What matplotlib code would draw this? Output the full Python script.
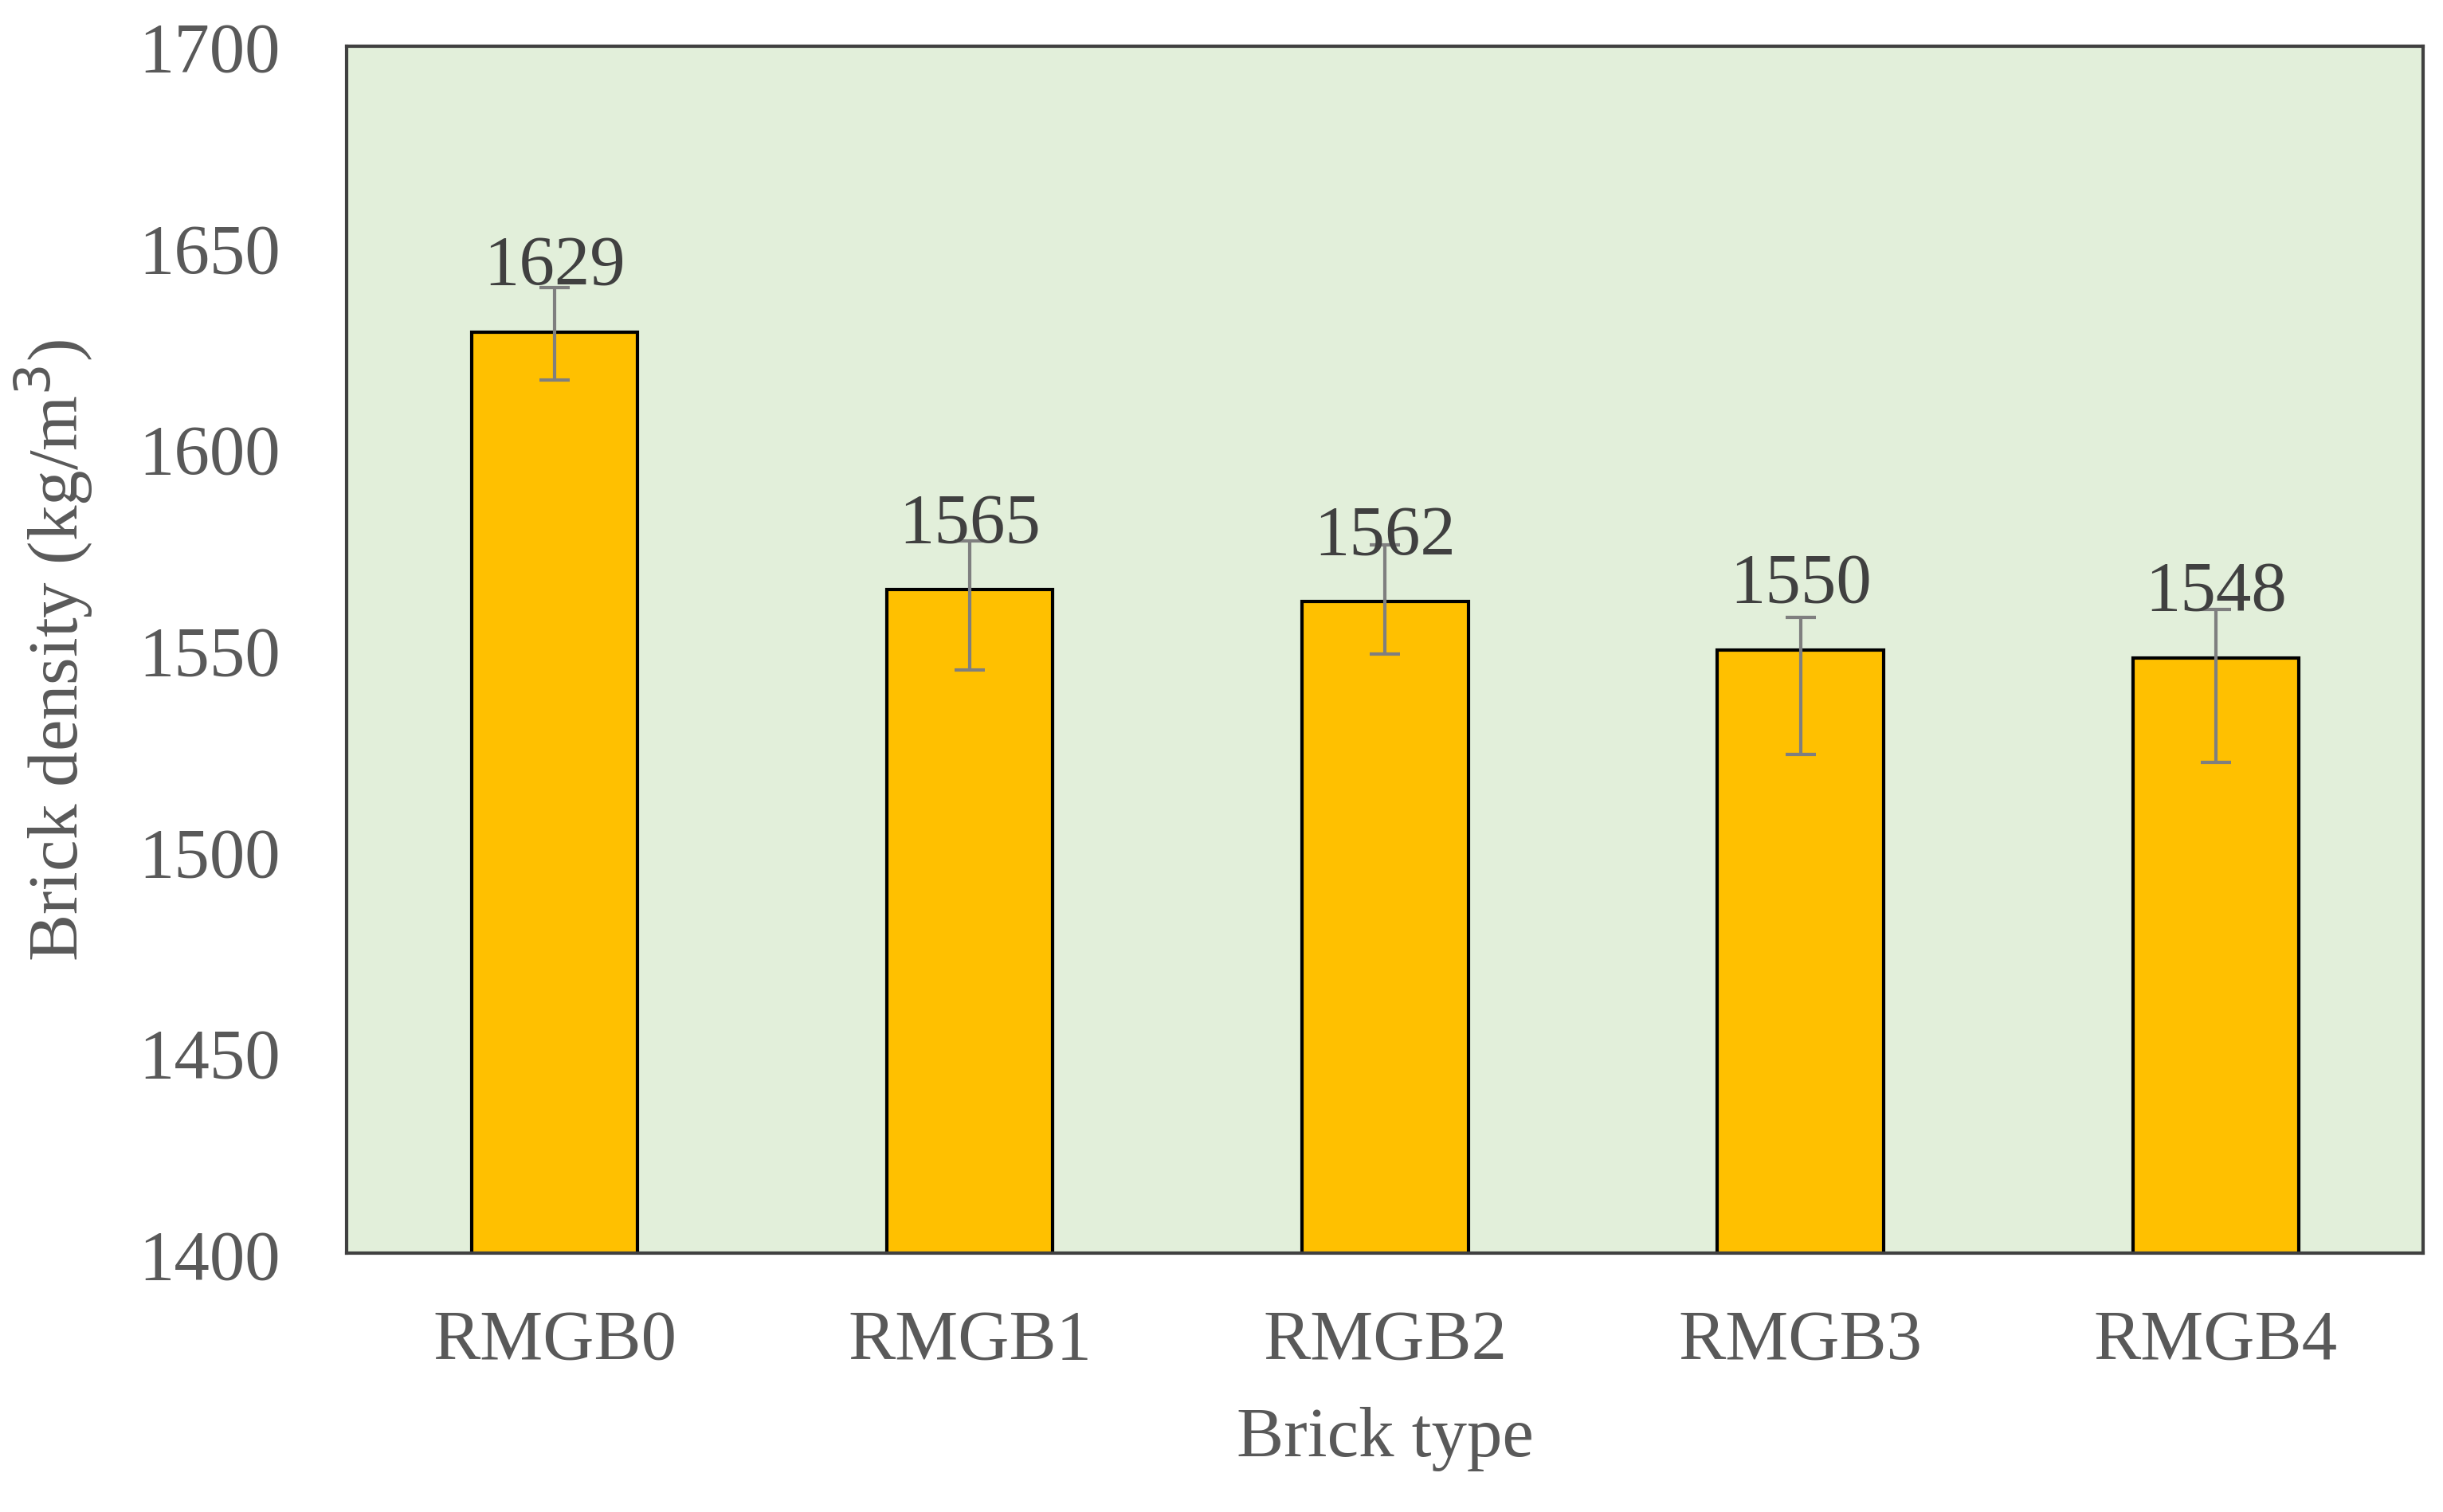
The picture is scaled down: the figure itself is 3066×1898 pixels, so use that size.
import matplotlib.pyplot as plt

plt.rcParams['font.family'] = ['Liberation Serif', 'DejaVu Serif']

bricks = ["RMGB0", "RMGB1", "RMGB2", "RMGB3", "RMGB4"]
density = [1629, 1565, 1562, 1550, 1548]
err_low = [12, 20, 13, 26, 26]
err_high = [11, 12, 14, 8, 12]

grey = "#595959"
fig = plt.figure(figsize=(30.66, 18.99), dpi=100)
ax = fig.add_axes([0.142, 0.171, 0.85, 0.798])
ax.set_facecolor("#E2EFDA")

x = range(len(bricks))
ax.bar(x, density, width=0.4, color="#FFC000", edgecolor="black", linewidth=3, zorder=2)
ax.errorbar(x, density, yerr=[err_low, err_high], fmt="none", ecolor="#7F7F7F",
            elinewidth=3, capsize=14, capthick=3, zorder=3)
for xi, v in zip(x, density):
    ax.annotate(str(v), (xi, v), xytext=(0, 30), textcoords="offset points",
                ha="center", va="bottom", fontsize=64, color="#404040")

ax.set_ylim(1400, 1700)
ax.set_xlim(-0.5, 4.5)
ax.set_yticks(range(1400, 1701, 50))
ax.set_xticks(list(x))
ax.set_xticklabels(bricks)
ax.tick_params(axis="y", labelsize=64, colors=grey, length=0, pad=60)
ax.tick_params(axis="x", labelsize=64, colors=grey, length=0, pad=50)
for s in ax.spines.values():
    s.set_color("#404040")
    s.set_linewidth(3)
ax.set_xlabel("Brick type", fontsize=64, color=grey, labelpad=30)
ax.set_ylabel("Brick density (kg/m$^3$)", fontsize=64, color=grey, labelpad=40)

fig.savefig("out.png")
